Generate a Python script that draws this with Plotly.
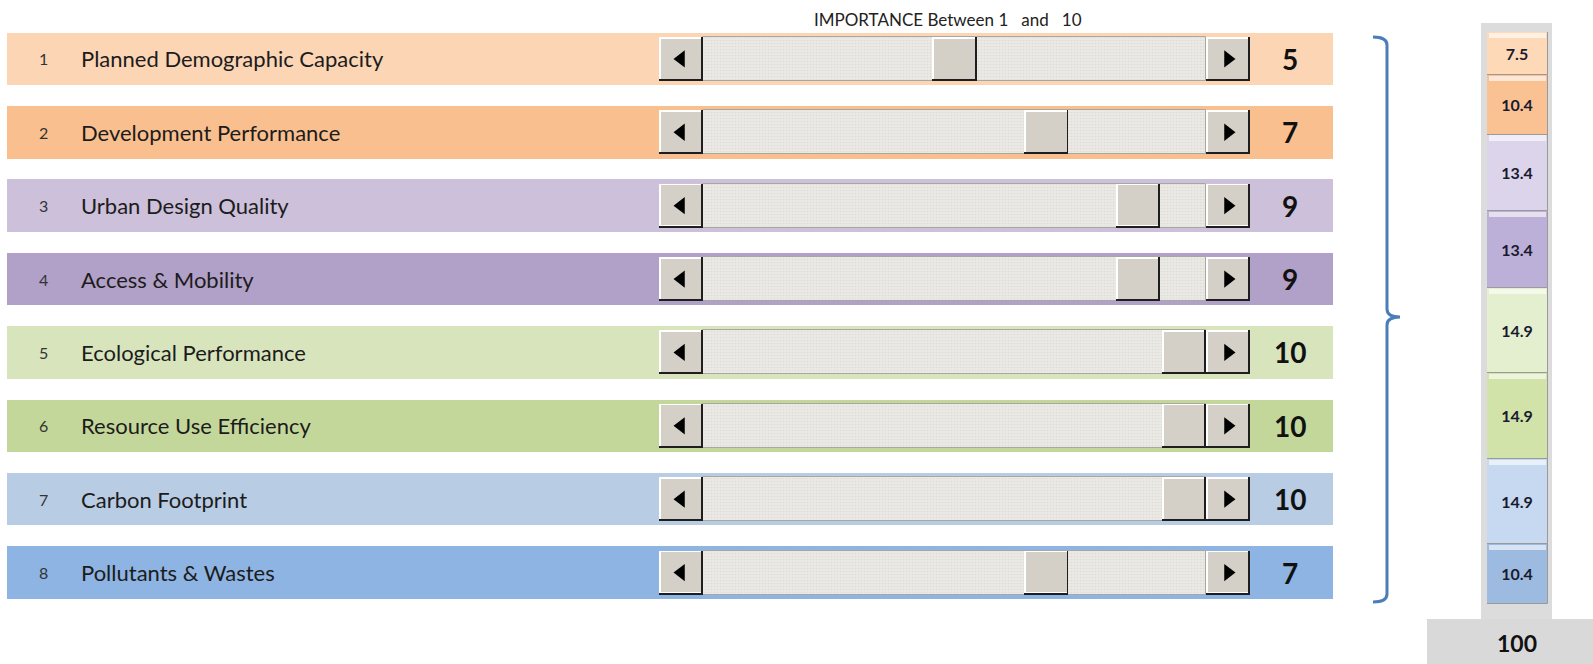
import numpy as np
import plotly.graph_objects as go

W, H = 1593, 664

# ---------------- data ----------------
ROW_NUMBERS = ["1", "2", "3", "4", "5", "6", "7", "8"]
CRITERIA = [
    "Planned Demographic Capacity",
    "Development Performance",
    "Urban Design Quality",
    "Access & Mobility",
    "Ecological Performance",
    "Resource Use Efficiency",
    "Carbon Footprint",
    "Pollutants & Wastes",
]
IMPORTANCE = [5, 7, 9, 9, 10, 10, 10, 7]
WEIGHTS = [7.5, 10.4, 13.4, 13.4, 14.9, 14.9, 14.9, 10.4]
TOTAL_LABEL = "100"
TITLE = "IMPORTANCE Between 1\u00a0\u00a0\u00a0and\u00a0\u00a0\u00a010"

# ---------------- styles ----------------
BAND_COLORS = ["#fcd5b5", "#fabf8f", "#ccc0da", "#b1a0c7",
               "#d8e4bc", "#c4d79b", "#b8cce4", "#8db4e2"]
SEG_COLORS = ["#fdd9b8", "#fac293", "#dcd4ea", "#bdb0d8",
              "#e4efcf", "#d2e3a9", "#c6d9f0", "#9dbbe0"]
FONT = "Lato, 'Open Sans', sans-serif"
TXT = "#1c1c1c"
FACE = "#d4d0c8"

BTN = 0.96          # button / thumb length in slider units
TRACK = 10.96       # trough length in slider units
BAND_W = 0.7155     # band thickness (row units)
SB_W = 0.5996       # scrollbar thickness (row units)
PX_X = 1 / 45.9     # one pixel in slider units
PX_Y = 1 / 73.38    # one pixel in row units

fig = go.Figure()

# coloured bands
fig.add_trace(go.Bar(
    y=CRITERIA, x=[1] * len(CRITERIA), orientation="h", width=BAND_W,
    marker=dict(color=BAND_COLORS, line=dict(width=0)),
    xaxis="x", yaxis="y", hoverinfo="skip", showlegend=False))

# trough
fig.add_trace(go.Bar(
    y=CRITERIA, x=[TRACK] * len(CRITERIA), base=[0] * len(CRITERIA),
    orientation="h", width=SB_W,
    marker=dict(color="#ebe9e5", line=dict(width=1, color="#a9a7a2"),
                pattern=dict(shape=".", fgcolor="#d2cec7", size=3,
                             solidity=0.25, fillmode="overlay")),
    xaxis="x2", yaxis="y", hoverinfo="skip", showlegend=False))


def add_button(bases):
    n = len(bases)
    # dark shadow (full rect)
    fig.add_trace(go.Bar(
        y=CRITERIA, x=[BTN] * n, base=bases, orientation="h",
        width=SB_W, offset=-SB_W / 2,
        marker=dict(color="#1e1e1e", line=dict(width=0)),
        xaxis="x2", yaxis="y", hoverinfo="skip", showlegend=False))
    # highlight
    fig.add_trace(go.Bar(
        y=CRITERIA, x=[BTN - 1.6 * PX_X] * n, base=bases, orientation="h",
        width=SB_W - 2 * PX_Y, offset=-SB_W / 2,
        marker=dict(color="#ffffff", line=dict(width=0)),
        xaxis="x2", yaxis="y", hoverinfo="skip", showlegend=False))
    # face
    fig.add_trace(go.Bar(
        y=CRITERIA, x=[BTN - 3.2 * PX_X] * n,
        base=[b + 1.6 * PX_X for b in bases], orientation="h",
        width=SB_W - 3.8 * PX_Y, offset=-SB_W / 2 + 1.6 * PX_Y,
        marker=dict(color=FACE, line=dict(width=0)),
        xaxis="x2", yaxis="y", hoverinfo="skip", showlegend=False))


add_button([-BTN] * len(CRITERIA))
add_button(list(IMPORTANCE))
add_button([TRACK] * len(CRITERIA))

# arrows
fig.add_trace(go.Scatter(
    y=CRITERIA, x=[-BTN / 2] * len(CRITERIA), mode="markers",
    marker=dict(symbol="triangle-left", size=15, color="black"),
    xaxis="x2", yaxis="y", hoverinfo="skip", showlegend=False))
fig.add_trace(go.Scatter(
    y=CRITERIA, x=[TRACK + BTN / 2] * len(CRITERIA), mode="markers",
    marker=dict(symbol="triangle-right", size=15, color="black"),
    xaxis="x2", yaxis="y", hoverinfo="skip", showlegend=False))

# stacked weights column
w = np.array(WEIGHTS)
starts = np.concatenate([[0], np.cumsum(w)[:-1]])
fig.add_trace(go.Bar(
    x=[0] * len(w), y=w, base=starts, width=1,
    marker=dict(color=SEG_COLORS, line=dict(width=1, color="#9a9a9a")),
    text=[f"{v:.1f}" for v in w], textposition="inside",
    insidetextanchor="middle", textangle=0, constraintext="none",
    textfont=dict(family=FONT, size=16, color="#1a1a2e", weight="bold"),
    xaxis="x3", yaxis="y3", hoverinfo="skip", showlegend=False))
# bevel highlight on top of each segment
fig.add_trace(go.Bar(
    x=[0] * len(w), y=[0.9] * len(w), base=starts + 0.15, width=0.93,
    marker=dict(color="rgba(255,255,255,0.6)", line=dict(width=0)),
    xaxis="x3", yaxis="y3", hoverinfo="skip", showlegend=False))

annotations = []
for num, name, val in zip(ROW_NUMBERS, CRITERIA, IMPORTANCE):
    annotations.append(dict(x=43 / W, xref="paper", y=name, yref="y",
                            text=num, showarrow=False, xanchor="center",
                            font=dict(family=FONT, size=16, color="#333333")))
    annotations.append(dict(x=79 / W, xref="paper", y=name, yref="y",
                            text=name, showarrow=False, xanchor="left",
                            font=dict(family=FONT, size=22, color=TXT)))
    annotations.append(dict(x=1290 / W, xref="paper", y=name, yref="y",
                            text=str(val), showarrow=False, xanchor="center",
                            font=dict(family=FONT, size=28, color="#111111",
                                      weight="bold")))

annotations.append(dict(x=948 / W, y=1 - 19 / H, xref="paper", yref="paper",
                        text=TITLE, showarrow=False, xanchor="center",
                        yanchor="middle",
                        font=dict(family=FONT, size=17, color="#222222")))
annotations.append(dict(x=1517 / W, y=1 - 643 / H, xref="paper", yref="paper",
                        text=TOTAL_LABEL, showarrow=False, xanchor="center",
                        yanchor="middle",
                        font=dict(family=FONT, size=23, color="#111111",
                                  weight="bold")))


def P(x, y):
    return f"{x / W:.5f},{1 - y / H:.5f}"


brace = ("M" + P(1373, 37) + " Q" + P(1387, 37) + " " + P(1387, 45) +
         " L" + P(1387, 309) + " Q" + P(1387, 317) + " " + P(1400, 317) +
         " Q" + P(1387, 317) + " " + P(1387, 325) +
         " L" + P(1387, 594) + " Q" + P(1387, 602) + " " + P(1373, 602))

shapes = [
    dict(type="rect", xref="paper", yref="paper", layer="below",
         x0=1481 / W, x1=1552 / W, y0=1 - 619 / H, y1=1 - 23 / H,
         fillcolor="#dcdcdc", line=dict(width=0)),
    dict(type="rect", xref="paper", yref="paper", layer="below",
         x0=1427 / W, x1=1.0, y0=0, y1=1 - 619 / H,
         fillcolor="#d9d9d9", line=dict(width=0)),
    dict(type="path", xref="paper", yref="paper", path=brace,
         line=dict(color="#4a7ebb", width=3)),
]

hidden = dict(visible=False, showgrid=False, zeroline=False, fixedrange=True)
fig.update_layout(
    width=W, height=H, margin=dict(l=0, r=0, t=0, b=0),
    paper_bgcolor="white", plot_bgcolor="rgba(0,0,0,0)",
    barmode="overlay", bargap=0, showlegend=False,
    xaxis=dict(domain=[7 / W, 1333 / W], range=[0, 1], anchor="y", **hidden),
    xaxis2=dict(domain=[659 / W, 1250 / W], range=[-BTN, TRACK + BTN],
                anchor="y", **hidden),
    yaxis=dict(domain=[0, 1], type="category", categoryorder="array",
               categoryarray=CRITERIA, range=[8.246, -0.8027], **hidden),
    xaxis3=dict(domain=[1487 / W, 1548 / W], range=[-0.5, 0.5],
                anchor="y3", **hidden),
    yaxis3=dict(domain=[1 - 604.8 / H, 1 - 32 / H], range=[100, 0],
                anchor="x3", **hidden),
    annotations=annotations, shapes=shapes,
    font=dict(family=FONT),
)

fig.write_html("out.html")
